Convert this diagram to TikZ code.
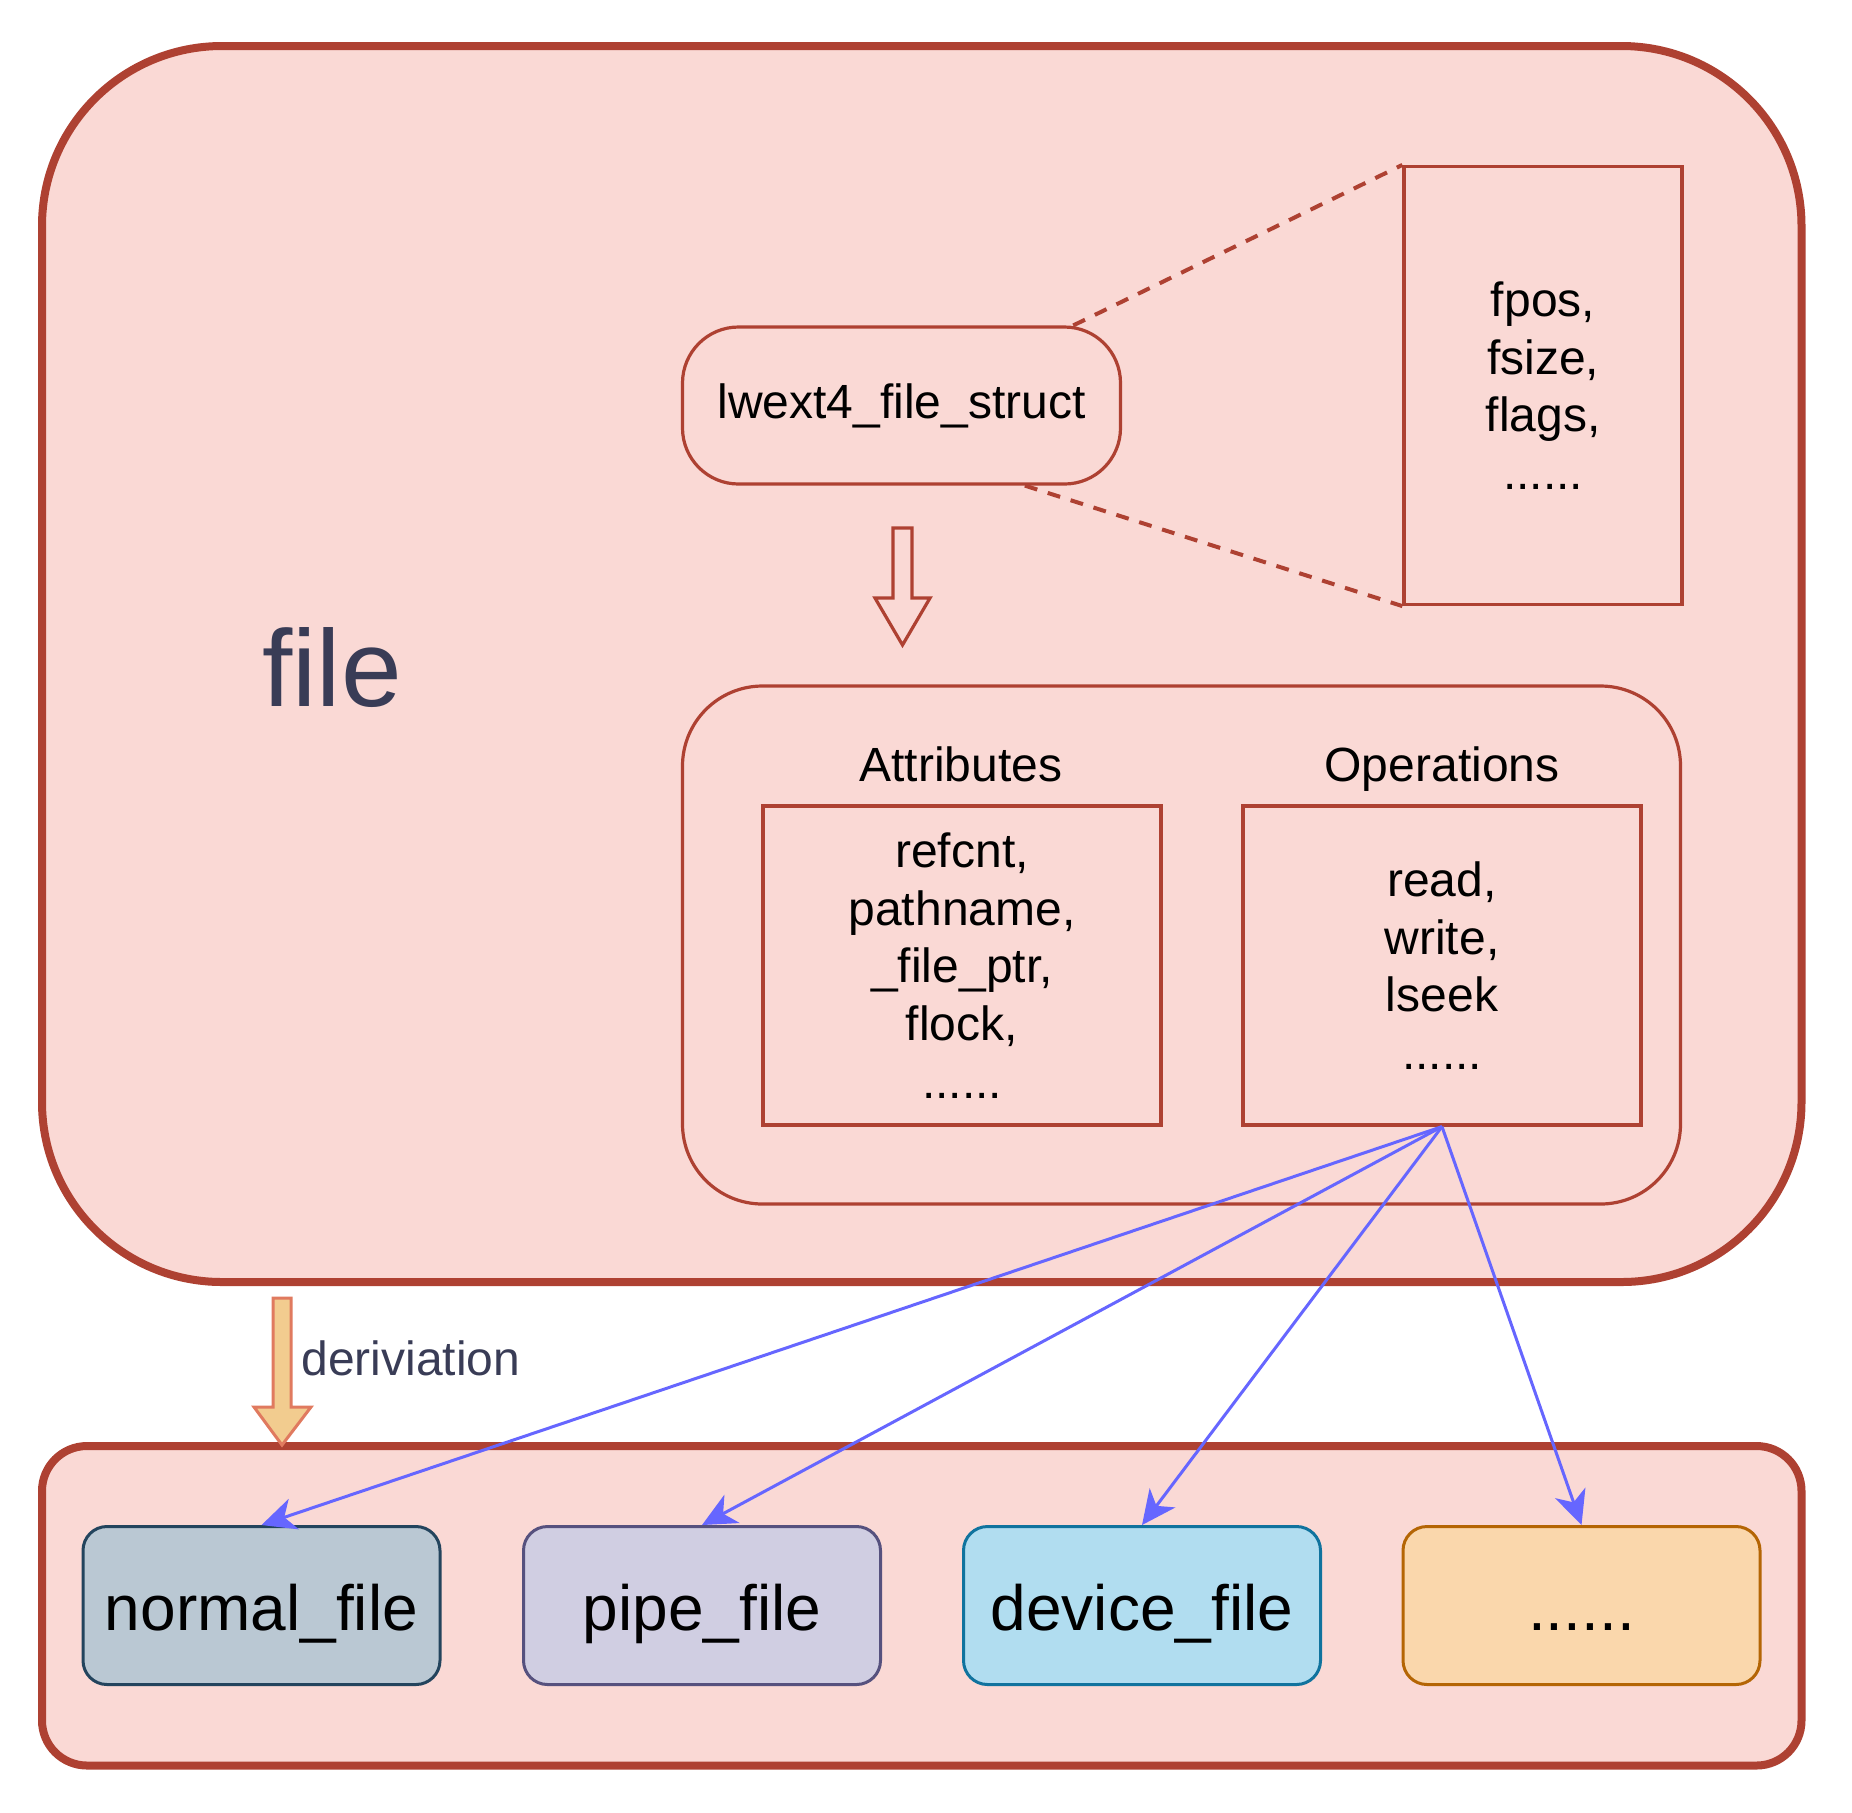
\documentclass[tikz,border=0pt]{standalone}
\usepackage{fontspec}
\setmainfont{Liberation Sans}
\usetikzlibrary{arrows.meta}

\definecolor{framered}{HTML}{AE4132}
\definecolor{framefill}{HTML}{FAD9D5}
\definecolor{linkblue}{HTML}{6666FF}
\definecolor{labeldark}{HTML}{393C56}
\definecolor{normalfill}{HTML}{BAC8D3}
\definecolor{normaldraw}{HTML}{23445D}
\definecolor{pipefill}{HTML}{D0CEE2}
\definecolor{pipedraw}{HTML}{56517E}
\definecolor{devicefill}{HTML}{B1DDF0}
\definecolor{devicedraw}{HTML}{10739E}
\definecolor{morefill}{HTML}{FAD7AC}
\definecolor{moredraw}{HTML}{B46504}
\definecolor{derivfill}{HTML}{F2CC8F}
\definecolor{derivdraw}{HTML}{E07A5F}

\begin{document}
\begin{tikzpicture}[x=0.5pt,y=-0.5pt,
  every node/.style={inner sep=0pt, align=center, font=\fontsize{24}{28.8}\selectfont},
  bigframe/.style={draw=framered, fill=framefill, line width=4pt},
  thinframe/.style={draw=framered, fill=framefill, line width=1.6pt},
  leaf/.style 2 args={draw=#2, fill=#1, line width=1.5pt, rounded corners=12pt,
    minimum width=178.5pt, minimum height=79pt, text height=24.5pt, text depth=0pt,
    font=\fontsize{32}{38}\selectfont},
  link/.style={draw=linkblue, line width=1.5pt, -{Stealth[length=17pt,width=16pt,inset=5pt]}},
  zoomline/.style={draw=framered, line width=2pt, dash pattern=on 6.5pt off 5.5pt}]
\useasboundingbox (0,0) rectangle (1852,1812);

\node [bigframe, rounded corners=90pt, minimum width=879.75pt, minimum height=618pt] (file) at (921.75,664) {};
\node [bigframe, rounded corners=22.5pt, minimum width=879.75pt, minimum height=159.75pt] (derived) at (921.75,1605.75) {};

\node [text=labeldark, font=\fontsize{54.5}{65}\selectfont] (filelabel) at (332,668) {file};

\node [thinframe, rounded corners=28pt, minimum width=219pt, minimum height=78.5pt] (lw) at (901.5,405.5) {lwext4\_file\_struct};
\node [thinframe, minimum width=139pt, minimum height=219pt] (fields) at (1543,385.5) {fpos,\\fsize,\\flags,\\......};
\draw [zoomline] (lw.25.7) -- (fields.north west);
\draw [zoomline] (lw.-33.5) -- (fields.south west);

\draw [thinframe] (893,528) -- (912,528) -- (912,598) -- (930,598) -- (902.5,645) -- (875,598) -- (893,598) -- cycle;

\node [thinframe, rounded corners=40pt, minimum width=499pt, minimum height=259pt] (ops) at (1181.5,945) {};
\node [anchor=base] (attrtitle) at (961,781.5) {Attributes};
\node [anchor=base] (opertitle) at (1442,781.5) {Operations};
\node [thinframe, minimum width=199pt, minimum height=159.5pt] (attr) at (962,965.5) {refcnt,\\pathname,\\\_file\_ptr,\\flock,\\......};
\node [thinframe, minimum width=199pt, minimum height=159.5pt] (oper) at (1442,965.5) {read,\\write,\\lseek\\......};

\draw [fill=derivfill, draw=derivdraw, line width=1.5pt] (273,1298) -- (291,1298) -- (291,1407) -- (311,1407) -- (282,1445) -- (254,1407) -- (273,1407) -- cycle;
\node [anchor=west, text=labeldark] (derivlabel) at (301,1358) {deriviation};

\node [leaf={normalfill}{normaldraw}] (normal) at (261.5,1605.5) {normal\_file};
\node [leaf={pipefill}{pipedraw}] (pipe) at (702,1605.5) {pipe\_file};
\node [leaf={devicefill}{devicedraw}] (device) at (1142,1605.5) {device\_file};
\node [leaf={morefill}{moredraw}] (more) at (1581.5,1605.5) {......};

\draw [link] (oper.south) -- (normal.north);
\draw [link] (oper.south) -- (pipe.north);
\draw [link] (oper.south) -- (device.north);
\draw [link] (oper.south) -- (more.north);
\end{tikzpicture}
\end{document}
